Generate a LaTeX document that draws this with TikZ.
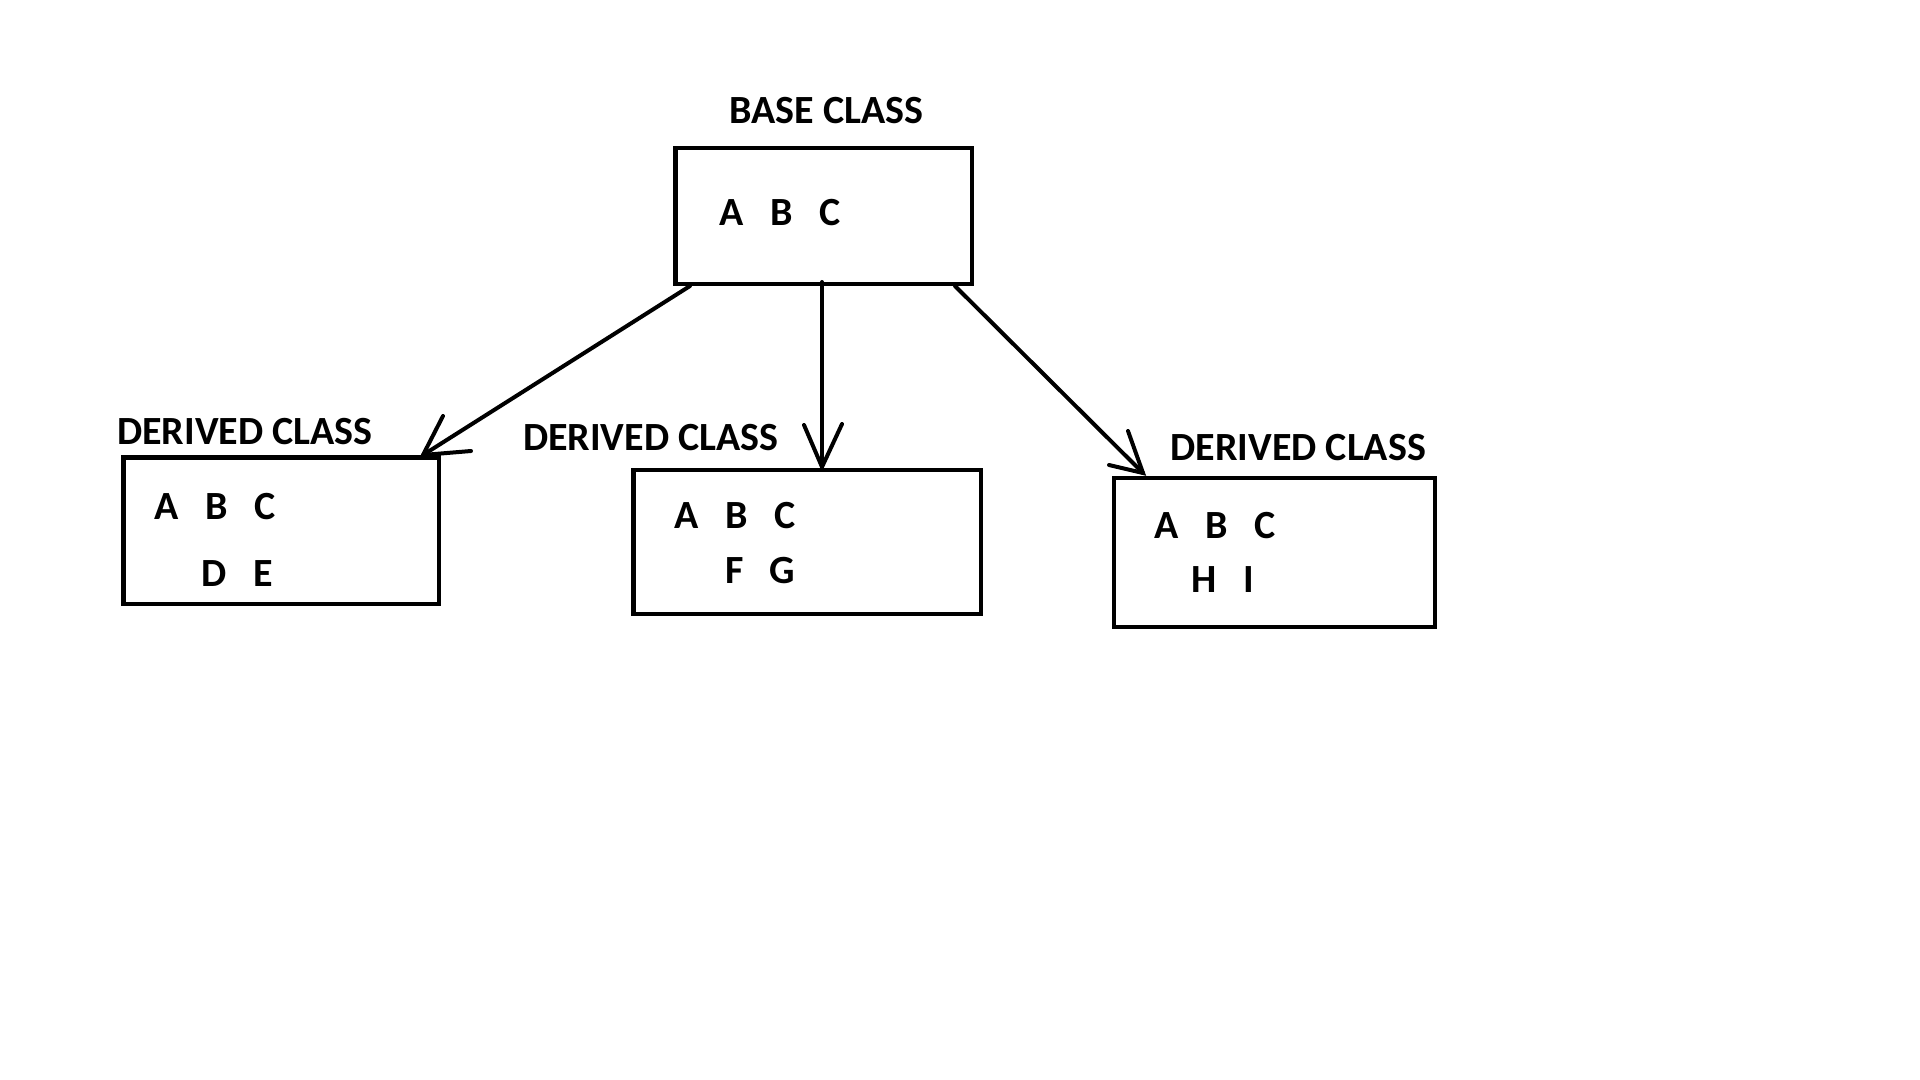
\documentclass[tikz,border=0pt]{standalone}
\usepackage{fontspec}
\setmainfont{Carlito}
\usetikzlibrary{calc}
\begin{document}
\begin{tikzpicture}[x=0.5pt,y=-0.5pt,
  lbl/.style={inner sep=0pt,font=\bfseries\fontsize{20}{22}\selectfont},
  classbox/.style={draw,line width=2.2pt,inner sep=0pt},
  conn/.style={line width=2pt,line cap=round}]
\useasboundingbox[fill=white] (0,0) rectangle (1920,1080);
% boxes
\node[classbox,minimum width=148.3pt,minimum height=68pt] (base) at (823.7,215.8) {};
\node[classbox,minimum width=157.8pt,minimum height=73.3pt] (d1) at (281.2,530.7) {};
\node[classbox,minimum width=173.8pt,minimum height=72pt] (d2) at (807.2,542) {};
\node[classbox,minimum width=160.5pt,minimum height=74.5pt] (d3) at (1274.5,552.2) {};
% titles
\node[lbl] (tbase) at (826.5,111) {BASE CLASS};
\node[lbl] (t1) at (245,431.3) {DERIVED CLASS};
\node[lbl] (t2) at (650.8,437.7) {DERIVED CLASS};
\node[lbl] (t3) at (1298.3,447.7) {DERIVED CLASS};
% members of base
\node[lbl] (bA) at (731.5,212.7) {A};
\node[lbl] (bB) at (781.5,212.7) {B};
\node[lbl] (bC) at (830,212.7) {C};
% members of derived 1
\node[lbl] (aA) at (166.2,506.7) {A};
\node[lbl] (aB) at (216.3,506.7) {B};
\node[lbl] (aC) at (264.7,506.7) {C};
\node[lbl] (aD) at (213.8,573.3) {D};
\node[lbl] (aE) at (263.3,573.3) {E};
% members of derived 2
\node[lbl] (mA) at (686.2,515.7) {A};
\node[lbl] (mB) at (736.2,515.7) {B};
\node[lbl] (mC) at (784.7,515.7) {C};
\node[lbl] (mF) at (734.2,570.8) {F};
\node[lbl] (mG) at (782.5,570.8) {G};
% members of derived 3
\node[lbl] (rA) at (1166.2,525.7) {A};
\node[lbl] (rB) at (1216.7,525.7) {B};
\node[lbl] (rC) at (1265,525.7) {C};
\node[lbl] (rH) at (1203.7,580) {H};
\node[lbl] (rI) at (1248.7,580) {I};
% connector end points
\coordinate (s1) at (690,286);
\coordinate (e1) at (423,455);
\coordinate (s2) at (822,282);
\coordinate (e2) at (822,467);
\coordinate (s3) at (955,286);
\coordinate (e3) at (1143,473);
% arrowhead arm ends
\coordinate (h1a) at (443,416);
\coordinate (h1b) at (471,451);
\coordinate (h2a) at (804,425);
\coordinate (h2b) at (842,424);
\coordinate (h3a) at (1128,431);
\coordinate (h3b) at (1109,465);
% connectors
\draw[conn] (s1) -- (e1);
\draw[conn] (h1a) -- (e1) -- (h1b);
\draw[conn] (s2) -- (e2);
\draw[conn] (h2a) -- (e2) -- (h2b);
\draw[conn] (s3) -- (e3);
\draw[conn] (h3a) -- (e3) -- (h3b);
\end{tikzpicture}
\end{document}
